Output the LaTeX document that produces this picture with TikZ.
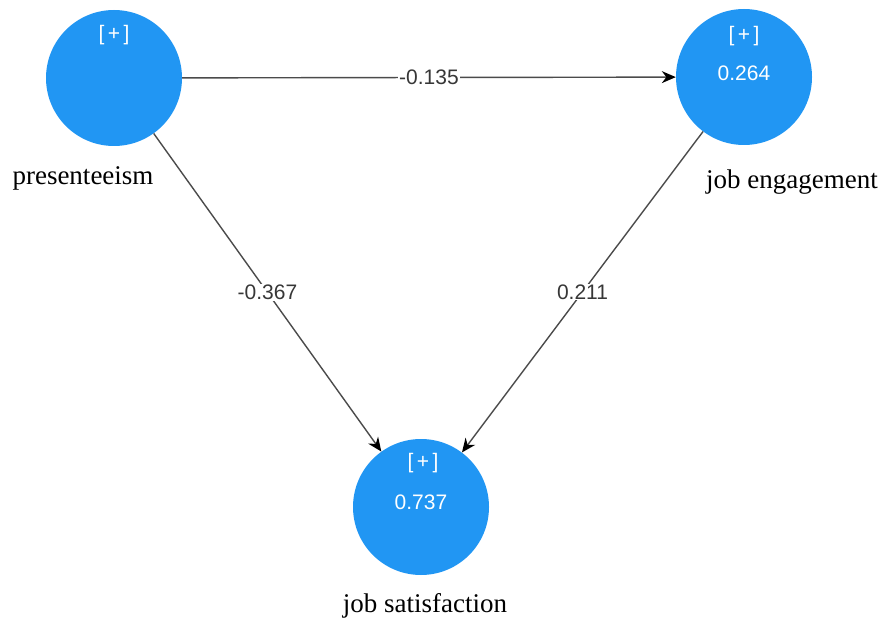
\documentclass[tikz,border=0pt]{standalone}
\usepackage{fontspec}
\setmainfont{Liberation Serif}
\setsansfont{Liberation Sans}
\usetikzlibrary{arrows.meta}
\definecolor{lvblue}{RGB}{33,150,243}
\definecolor{pathgray}{RGB}{75,75,75}
\definecolor{coeffgray}{RGB}{55,55,55}
\tikzset{
  latent/.style={circle, fill=lvblue, draw=none, minimum size=136pt, inner sep=0pt},
  intext/.style={font=\sffamily\fontsize{21}{21}\selectfont, text=white},
  varname/.style={font=\fontsize{27}{27}\selectfont, text=black},
  path/.style={draw=pathgray, line width=1.4pt, -{Stealth[length=14pt,width=12pt,color=black]}},
  coeff/.style={font=\sffamily\fontsize{21}{21}\selectfont, text=coeffgray, fill=white, inner sep=1pt}
}
\begin{document}
\begin{tikzpicture}[x=1pt, y=-1pt]
  \useasboundingbox (0,0) rectangle (883,628);
  % latent variables
  \node[latent] (pres) at (114,78) {};
  \node[latent] (eng) at (744,77) {};
  \node[latent] (sat) at (421,507) {};
  % contents of the circles
  \node[intext] (presplus) at (114,35) {[\,+\,]};
  \node[intext] (engplus) at (744,36) {[\,+\,]};
  \node[intext] (engr2) at (744,73) {0.264};
  \node[intext] (satplus) at (423,463) {[\,+\,]};
  \node[intext] (satr2) at (421,502) {0.737};
  % variable names
  \node[varname] (presname) at (83,178) {presenteeism};
  \node[varname] (engname) at (792,182) {job engagement};
  \node[varname] (satname) at (425,606) {job satisfaction};
  % structural paths
  \draw[path] (pres) -- node[coeff] (c1) {-0.135} (eng);
  \draw[path] (pres) -- node[coeff, pos=0.5] (c2) {-0.367} (sat);
  \draw[path] (eng) -- node[coeff, pos=0.5] (c3) {0.211} (sat);
\end{tikzpicture}
\end{document}
